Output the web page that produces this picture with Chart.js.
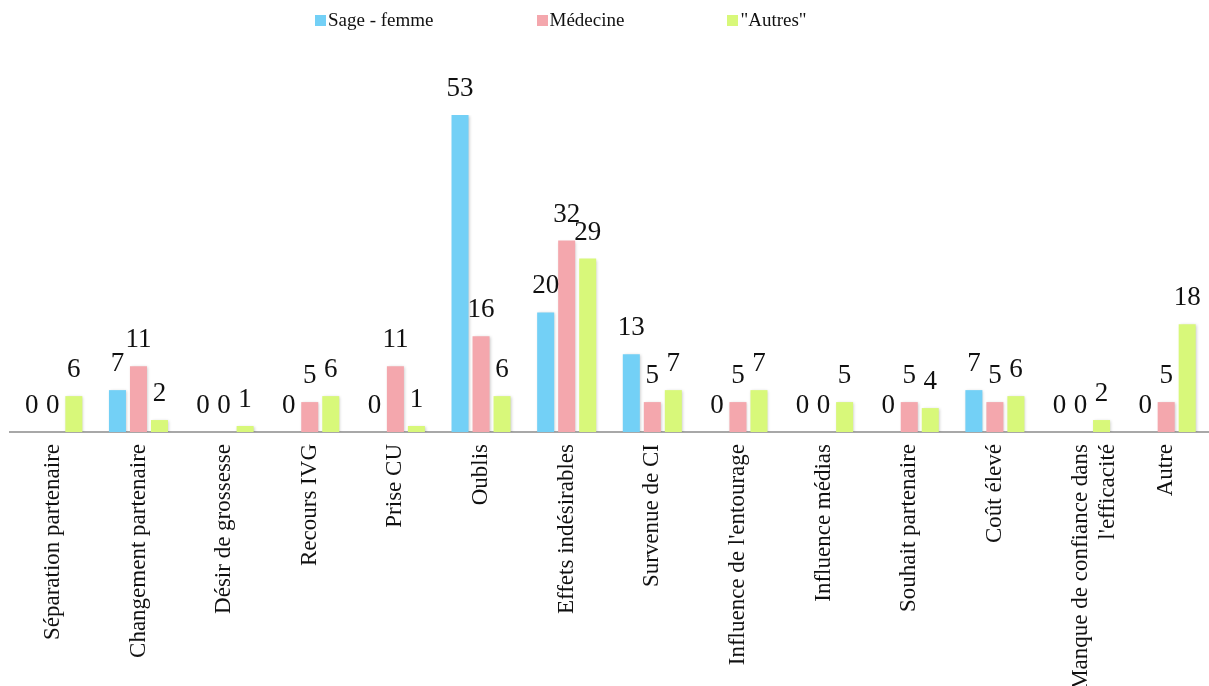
<!DOCTYPE html>
<html lang="fr">

<head>
    <meta charset="UTF-8" />
    <title>Motifs d'arrêt de la contraception</title>
    <script src="https://cdn.jsdelivr.net/npm/chart.js"></script>
    <style>
        body {
            margin: 0;
            background-color: #ffffff;
        }

        #wrap {
            position: relative;
            width: 1209px;
            height: 686px;
        }

        #legend {
            position: absolute;
            top: 9px;
            left: 315px;
            display: flex;
            gap: 103px;
            font-family: 'Liberation Serif', serif;
            font-size: 19px;
            color: #111;
            line-height: 22px;
        }

        .item {
            display: flex;
            align-items: center;
        }

        .swatch {
            width: 11px;
            height: 11px;
            margin-right: 2px;
        }
    </style>
</head>

<body>
    <div id="wrap">
        <canvas id="chart"></canvas>
        <div id="legend"></div>
    </div>

    <script>
        const categories = [
            'Séparation partenaire',
            'Changement partenaire',
            'Désir de grossesse',
            'Recours IVG',
            'Prise CU',
            'Oublis',
            'Effets indésirables',
            'Survenue de CI',
            "Influence de l'entourage",
            'Influence médias',
            'Souhait partenaire',
            'Coût élevé',
            ['Manque de confiance dans', "l'efficacité"],
            'Autre'
        ];

        const seriesNames = ['Sage - femme', 'Médecine', '"Autres"'];
        const seriesColors = ['#73D0F6', '#F4A7AD', '#D8F87A'];

        const sageFemme = [0, 7, 0, 0, 0, 53, 20, 13, 0, 0, 0, 7, 0, 0];
        const medecine = [0, 11, 0, 5, 11, 16, 32, 5, 5, 0, 5, 5, 0, 5];
        const autres = [6, 2, 1, 6, 1, 6, 29, 7, 7, 5, 4, 6, 2, 18];

        const seriesValues = [sageFemme, medecine, autres];

        // legend above the plot
        const legendBox = document.getElementById('legend');
        seriesNames.forEach((name, i) => {
            const item = document.createElement('div');
            item.className = 'item';
            const sw = document.createElement('span');
            sw.className = 'swatch';
            sw.style.backgroundColor = seriesColors[i];
            const txt = document.createElement('span');
            txt.textContent = name;
            item.appendChild(sw);
            item.appendChild(txt);
            legendBox.appendChild(item);
        });

        // soft shadow under the bars
        const barShadow = {
            id: 'barShadow',
            beforeDatasetDraw(chart) {
                const ctx = chart.ctx;
                ctx.save();
                ctx.shadowColor = 'rgba(0, 0, 0, 0.22)';
                ctx.shadowBlur = 3;
                ctx.shadowOffsetX = 1;
                ctx.shadowOffsetY = 1;
            },
            afterDatasetDraw(chart) {
                chart.ctx.restore();
            }
        };

        // value written above each bar
        const valueLabels = {
            id: 'valueLabels',
            afterDatasetsDraw(chart) {
                const ctx = chart.ctx;
                ctx.save();
                ctx.font = "27px 'Liberation Serif', serif";
                ctx.fillStyle = '#111';
                ctx.textAlign = 'center';
                ctx.textBaseline = 'alphabetic';
                chart.data.datasets.forEach((ds, di) => {
                    const meta = chart.getDatasetMeta(di);
                    meta.data.forEach((bar, i) => {
                        ctx.fillText(String(ds.data[i]), bar.x, bar.y - 19);
                    });
                });
                ctx.restore();
            }
        };

        new Chart(document.getElementById('chart'), {
            type: 'bar',
            data: {
                labels: categories,
                datasets: seriesValues.map((vals, i) => ({
                    label: seriesNames[i],
                    data: vals,
                    backgroundColor: seriesColors[i],
                    borderWidth: 0,
                    categoryPercentage: 0.736,
                    barPercentage: 0.81
                }))
            },
            options: {
                responsive: true,
                maintainAspectRatio: false,
                animation: false,
                layout: {
                    padding: { top: 115, left: 10, right: 0, bottom: 0 }
                },
                plugins: {
                    legend: { display: false },
                    tooltip: { enabled: false }
                },
                scales: {
                    x: {
                        grid: { display: false, drawTicks: false },
                        border: { display: true, color: '#a8a8a8', width: 2 },
                        ticks: {
                            autoSkip: false,
                            minRotation: 90,
                            maxRotation: 90,
                            padding: 12,
                            color: '#111',
                            font: { family: "'Liberation Serif', serif", size: 23 }
                        },
                        afterFit: (scale) => {
                            scale.height = 254;
                        }
                    },
                    y: {
                        display: false,
                        min: 0,
                        max: 53
                    }
                }
            },
            plugins: [barShadow, valueLabels]
        });
    </script>
</body>

</html>
